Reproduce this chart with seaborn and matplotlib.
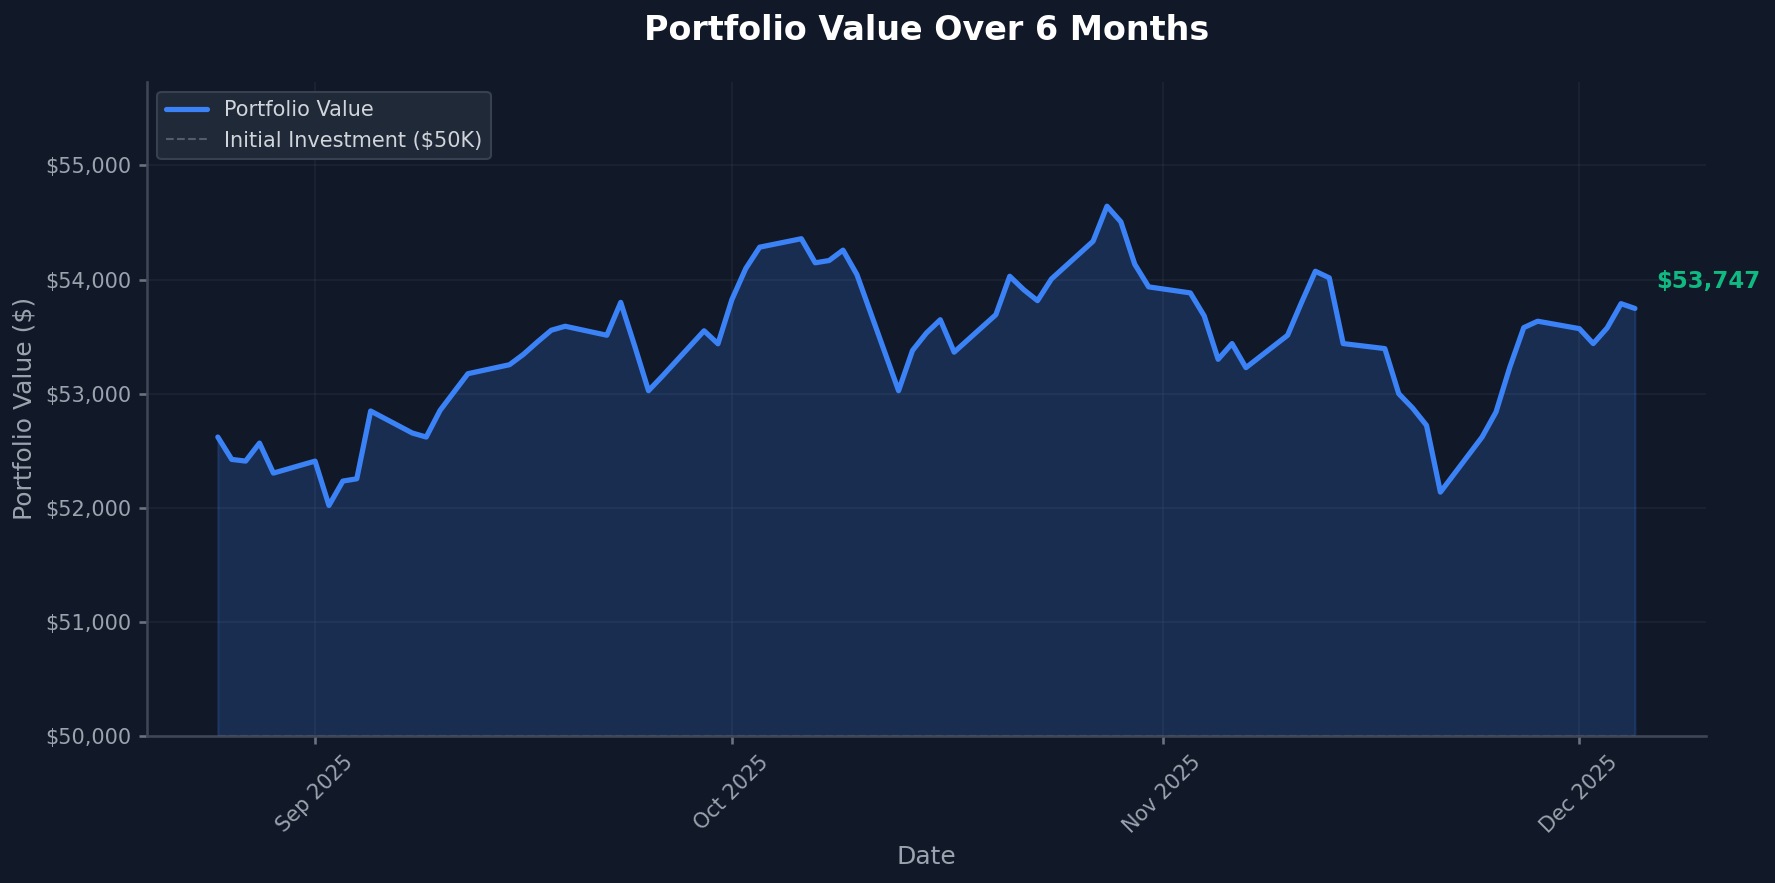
import matplotlib
matplotlib.use("Agg")
import matplotlib.pyplot as plt
import matplotlib.dates as mdates
from matplotlib.ticker import FuncFormatter, MultipleLocator
import pandas as pd
import seaborn as sns

# Business days shown on the chart
start_date = "2025-08-25"
end_date = "2025-12-05"

# Daily portfolio values (one per business day)
portfolio_values = [
    52620, 52424, 52409, 52567, 52304,
    52409, 52020, 52234, 52254, 52848,
    52655, 52620, 52854, 53015, 53175,
    53254, 53345, 53453, 53556, 53591,
    53512, 53800, 53420, 53026, 53154,
    53551, 53437, 53824, 54097, 54284,
    54358, 54147, 54167, 54258, 54044,
    53026, 53378, 53531, 53648, 53364,
    53692, 54029, 53912, 53815, 54005,
    54336, 54643, 54506, 54134, 53936,
    53883, 53681, 53301, 53439, 53228,
    53512, 53798, 54073, 54015, 53439,
    53395, 53000, 52874, 52722, 52137,
    52620, 52839, 53234, 53579, 53635,
    53570, 53439, 53576, 53789, 53747,
]
initial_investment = 50000

BG = "#111827"
LINE = "#3b82f6"
MUTED = "#9ca3af"
GREEN = "#10b981"

sns.set_theme(style="dark")
plt.rcParams.update({
    "figure.facecolor": BG,
    "axes.facecolor": BG,
    "savefig.facecolor": BG,
    "axes.edgecolor": "#3f4756",
    "axes.labelcolor": MUTED,
    "xtick.color": MUTED,
    "ytick.color": MUTED,
    "text.color": "#e5e7eb",
    "xtick.bottom": True,
    "ytick.left": True,
})
plt.rcParams["font.family"] = ["DejaVu Sans"]

dates = pd.bdate_range(start_date, end_date)
df = pd.DataFrame({"date": dates, "value": portfolio_values})

fig, ax = plt.subplots(figsize=(1775 / 150, 883 / 150), dpi=150)
fig.subplots_adjust(left=0.0828, right=0.961, bottom=0.1665, top=0.9077)

ax.fill_between(df["date"], df["value"], initial_investment, color=LINE, alpha=0.2)
sns.lineplot(data=df, x="date", y="value", ax=ax, color=LINE, linewidth=2.5,
             label="Portfolio Value")
ax.plot([dates[0], dates[-1]], [initial_investment, initial_investment],
        linestyle="--", color="#6b7280", linewidth=1, alpha=0.7,
        label="Initial Investment ($50K)")

last = df["value"].iloc[-1]
ax.annotate(f"${last:,.0f}", xy=(dates[-1], last), xytext=(10, 13),
            textcoords="offset points", ha="left", va="center",
            color=GREEN, fontsize=11, fontweight="bold")

ax.set_ylim(initial_investment, df["value"].max() * 1.02)
ax.yaxis.set_major_locator(MultipleLocator(1000))
ax.yaxis.set_major_formatter(FuncFormatter(lambda v, _: f"${v:,.0f}"))
ax.xaxis.set_major_locator(mdates.MonthLocator())
ax.xaxis.set_major_formatter(mdates.DateFormatter("%b %Y"))
plt.setp(ax.get_xticklabels(), rotation=45)
ax.tick_params(labelsize=10, length=4, color="#6b7280")

ax.grid(True, color="#374151", alpha=0.3, linewidth=0.8)
for side in ("top", "right"):
    ax.spines[side].set_visible(False)

ax.set_xlabel("Date", fontsize=12, color=MUTED)
ax.set_ylabel("Portfolio Value ($)", fontsize=12, color=MUTED)

# title centred over the axes, not the figure
pos = ax.get_position()
fig.text((pos.x0 + pos.x1) / 2, 0.965, "Portfolio Value Over 6 Months",
         fontsize=16, fontweight="bold", color="white", ha="center", va="center")

leg = ax.legend(loc="upper left", fontsize=10, facecolor="#1f2937",
                edgecolor="#374151", framealpha=1)
for t in leg.get_texts():
    t.set_color("#d1d5db")

fig.savefig("out.png", dpi=150, facecolor=BG)
